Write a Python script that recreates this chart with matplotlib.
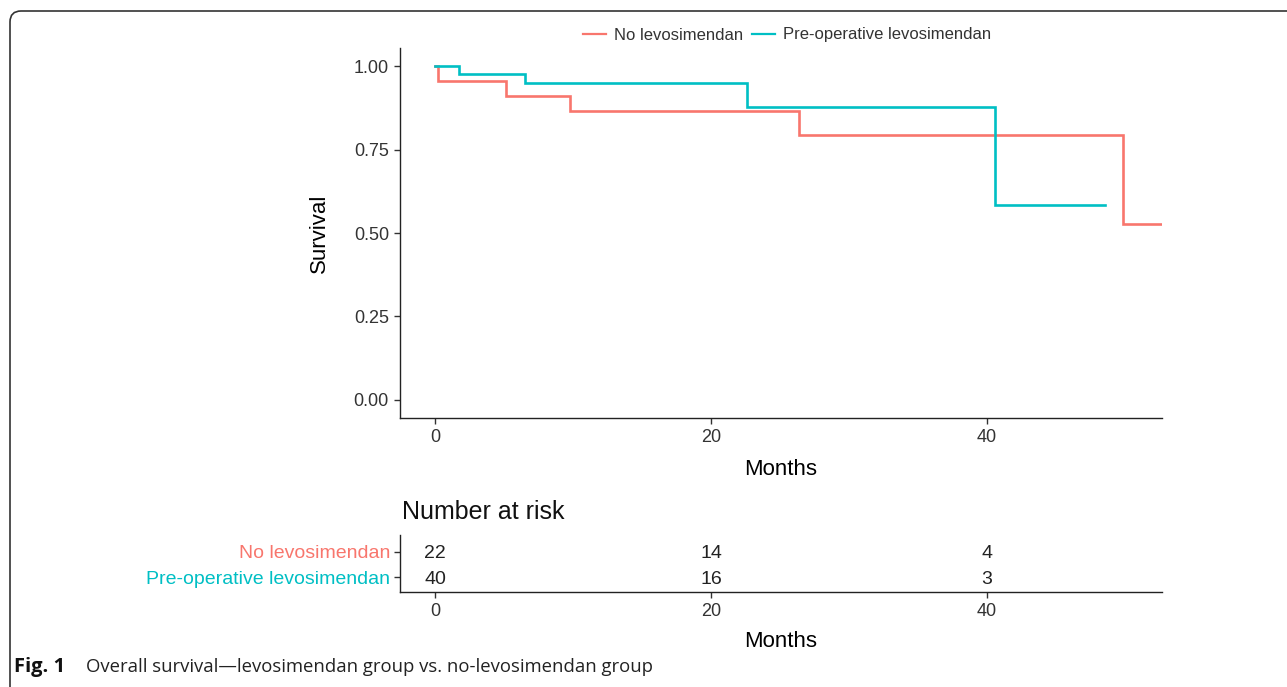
import matplotlib
matplotlib.use("Agg")
import matplotlib.pyplot as plt
from matplotlib.patches import FancyBboxPatch
from matplotlib.lines import Line2D

# ---- data ----
groups = ["No levosimendan", "Pre-operative levosimendan"]
colors = ["#F8766D", "#00BFC4"]
time_no = [0, 0.2, 5.1, 9.8, 26.4, 49.9, 52.7]
surv_no = [1.0, 0.955, 0.909, 0.864, 0.792, 0.528, 0.528]
time_pre = [0, 1.7, 6.5, 22.6, 40.6, 48.6]
surv_pre = [1.0, 0.975, 0.950, 0.877, 0.585, 0.585]
risk_times = [0, 20, 40]
risk_no = [22, 14, 4]
risk_pre = [40, 16, 3]
x_ticks = [0, 20, 40]
y_ticks = [0.00, 0.25, 0.50, 0.75, 1.00]
caption_bold = "Fig. 1"
caption_text = "Overall survival\u2014levosimendan group vs. no-levosimendan group"

W, H = 1287, 687
plt.rcParams['font.family'] = ['Liberation Sans', 'DejaVu Sans']
fig = plt.figure(figsize=(W / 100, H / 100), dpi=100)

def fx(px):
    return px / W

def fy(py):
    return 1 - py / H

XL = (-2.55, 52.7)

# ---- main KM axes ----
ax = fig.add_axes([fx(400), fy(418), fx(1162) - fx(400), fy(48) - fy(418)])
ax.plot(time_no, surv_no, drawstyle="steps-post", color=colors[0], lw=1.9, solid_joinstyle="miter")
ax.plot(time_pre, surv_pre, drawstyle="steps-post", color=colors[1], lw=1.9, solid_joinstyle="miter")
ax.set_xlim(*XL)
ax.set_ylim(-0.054, 1.054)
ax.set_xticks(x_ticks)
ax.set_yticks(y_ticks)
ax.set_yticklabels([f"{v:.2f}" for v in y_ticks])
for s in ["top", "right"]:
    ax.spines[s].set_visible(False)
for s in ["left", "bottom"]:
    ax.spines[s].set_linewidth(1.0)
    ax.spines[s].set_color("#222222")
ax.tick_params(axis="both", direction="out", length=4, width=1, color="#333333",
               labelsize=13, labelcolor="#333333", pad=4)
ax.set_xlabel("Months", fontsize=16, labelpad=9)
ax.set_ylabel("Survival", fontsize=16, labelpad=17)

# ---- legend ----
handles = [Line2D([], [], color=c, lw=1.6) for c in colors]
fig.legend(handles, groups, loc="center", bbox_to_anchor=(fx(787), fy(35)), ncol=2,
           frameon=False, fontsize=12, handlelength=1.4, handletextpad=0.5,
           columnspacing=0.5, labelcolor="#333333")

# ---- risk table ----
tax = fig.add_axes([fx(400), fy(592), fx(1162) - fx(400), fy(535) - fy(592)])
tax.set_xlim(*XL)
tax.set_ylim(0.4, 2.68)
for t, n1, n2 in zip(risk_times, risk_no, risk_pre):
    tax.text(t, 2, str(n1), ha="center", va="center_baseline", fontsize=14, color="#222222")
    tax.text(t, 1, str(n2), ha="center", va="center_baseline", fontsize=14, color="#222222")
tax.set_xticks(x_ticks)
tax.set_yticks([2, 1])
tax.set_yticklabels(groups)
for s in ["top", "right"]:
    tax.spines[s].set_visible(False)
for s in ["left", "bottom"]:
    tax.spines[s].set_linewidth(1.0)
    tax.spines[s].set_color("#222222")
tax.tick_params(axis="both", direction="out", length=4, width=1, color="#333333",
                labelsize=13, labelcolor="#333333", pad=4)
tax.tick_params(axis="y", labelsize=14, pad=3)
for lbl, c in zip(tax.get_yticklabels(), colors):
    lbl.set_color(c)
    lbl.set_verticalalignment("center_baseline")
tax.set_xlabel("Months", fontsize=16, labelpad=8)
fig.text(fx(402), fy(512), "Number at risk", fontsize=18, ha="left", va="center", color="#111111")

# ---- frame with rounded top-left corner ----
frame = FancyBboxPatch((0.10, -0.5), 14.0, 6.76 + 0.5,
                       boxstyle="round,pad=0,rounding_size=0.11",
                       transform=fig.dpi_scale_trans, fill=False,
                       edgecolor="#333333", lw=1.2, clip_on=False)
fig.patches.append(frame)

# ---- caption ----
fig.text(fx(14), fy(667), caption_bold, fontsize=14.5, fontweight="bold", family="Open Sans",
         ha="left", va="center", color="#111111")
fig.text(fx(86), fy(667), caption_text, fontsize=13.3, family="Open Sans",
         ha="left", va="center", color="#222222")

fig.savefig("out.png", dpi=100)
